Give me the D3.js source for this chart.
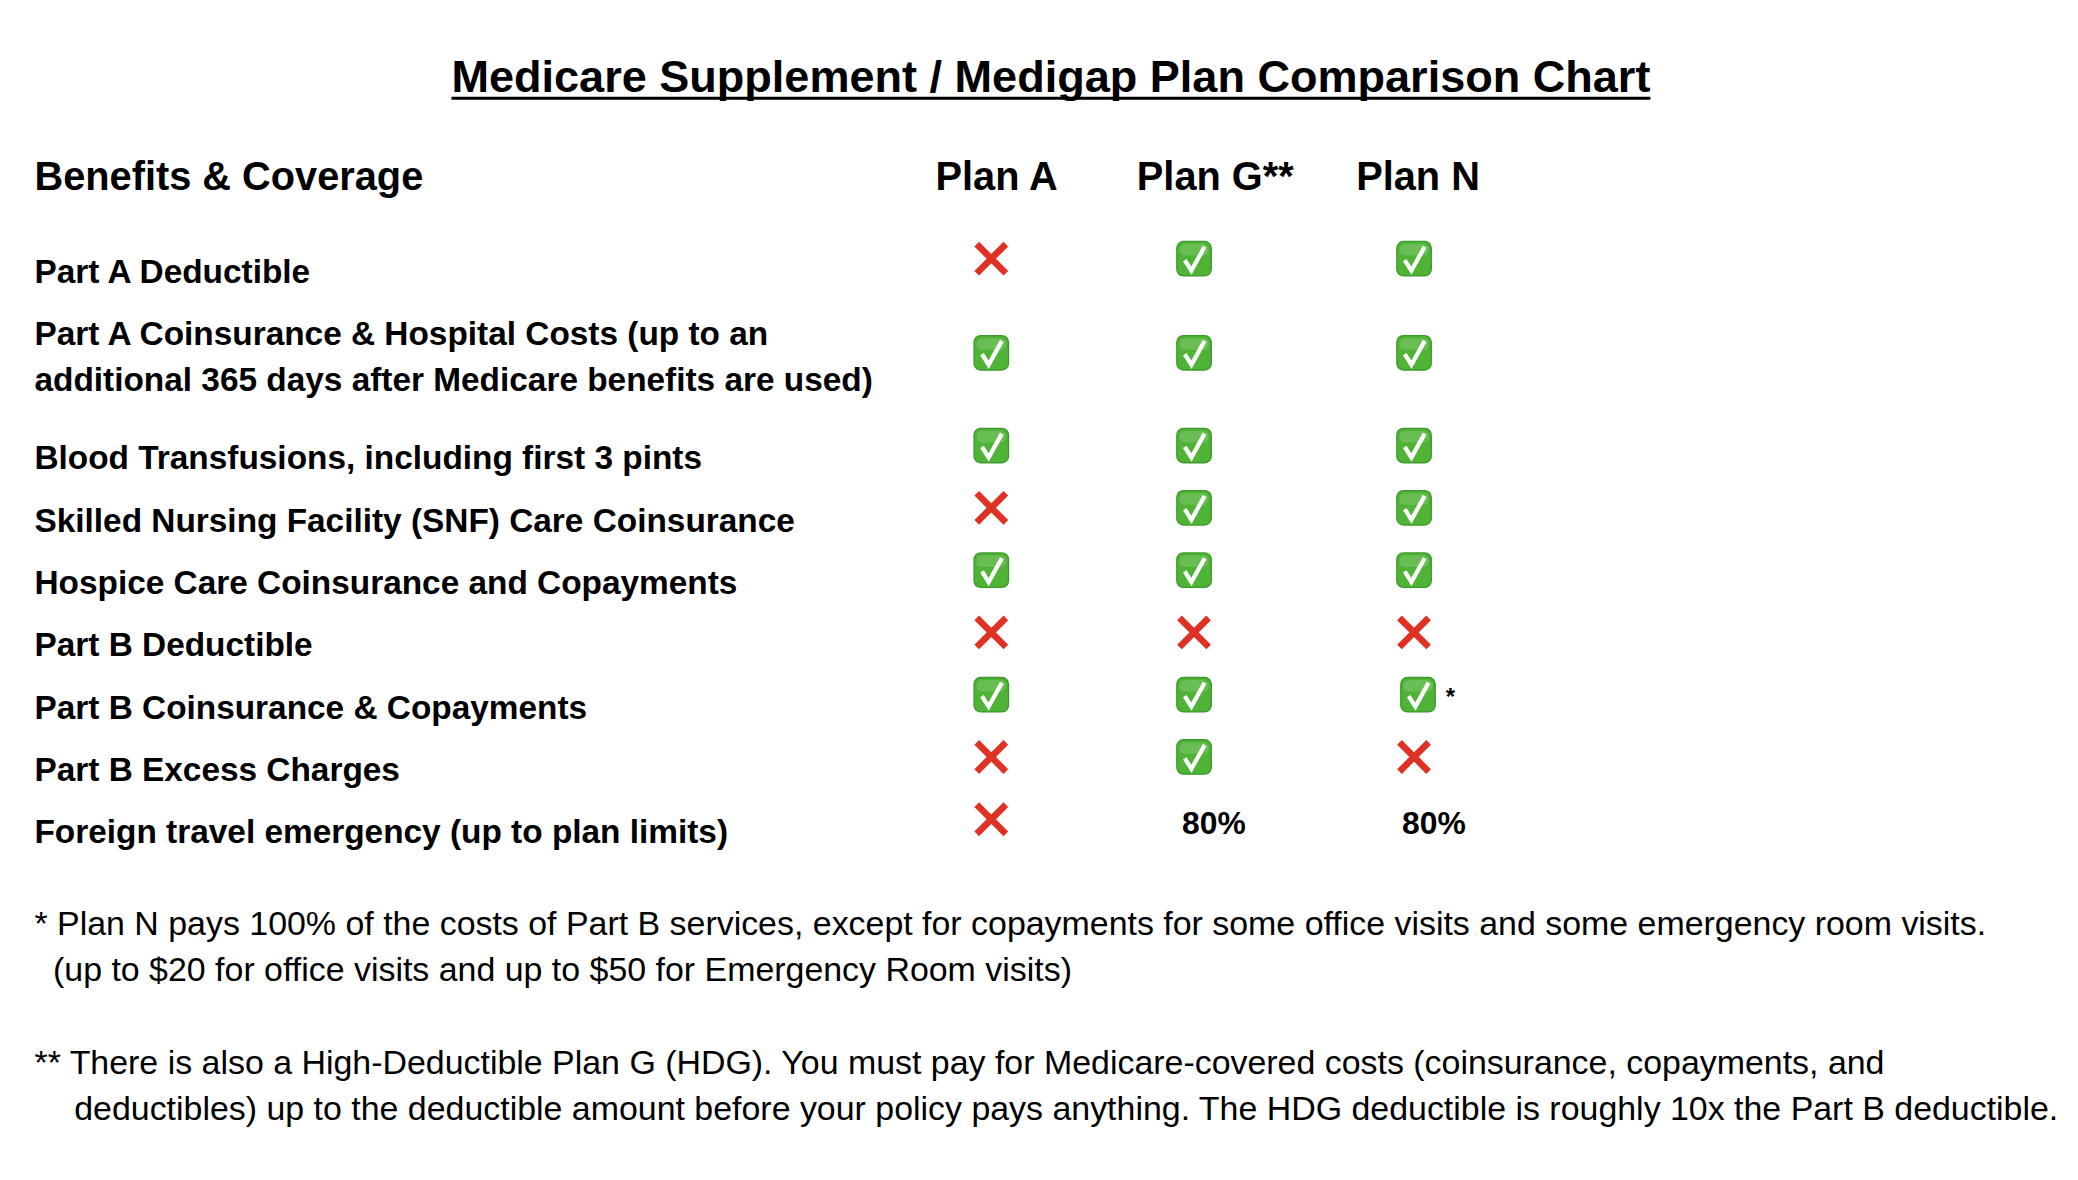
<!DOCTYPE html>
<html lang="en">
<head>
<meta charset="UTF-8">
<title>Medigap Plan Comparison Chart</title>
<script src="https://d3js.org/d3.v7.min.js"></script>
<style>
  body { margin: 0; background: #fff; }
  svg { display: block; }
  text { font-family: "Liberation Sans", Arial, sans-serif; fill: #000; }
</style>
</head>
<body>
<svg id="chart" width="2078" height="1180" viewBox="0 0 1568 890"></svg>
<script>
// table contents
const plans = ["Plan A", "Plan G**", "Plan N"];
const benefits = [
  ["Part A Deductible"],
  ["Part A Coinsurance & Hospital Costs (up to an", "additional 365 days after Medicare benefits are used)"],
  ["Blood Transfusions, including first 3 pints"],
  ["Skilled Nursing Facility (SNF) Care Coinsurance"],
  ["Hospice Care Coinsurance and Copayments"],
  ["Part B Deductible"],
  ["Part B Coinsurance & Copayments"],
  ["Part B Excess Charges"],
  ["Foreign travel emergency (up to plan limits)"]
];
const planA = ["no", "yes", "yes", "no", "yes", "no", "yes", "no", "no"];
const planG = ["yes", "yes", "yes", "yes", "yes", "no", "yes", "yes", "80%"];
const planN = ["yes", "yes", "yes", "yes", "yes", "no", "yes*", "no", "80%"];
const footnotes = [
  ["* Plan N pays 100% of the costs of Part B services, except for copayments for some office visits and some emergency room visits.",
   "(up to $20 for office visits and up to $50 for Emergency Room visits)"],
  ["** There is also a High-Deductible Plan G (HDG). You must pay for Medicare-covered costs (coinsurance, copayments, and",
   "deductibles) up to the deductible amount before your policy pays anything. The HDG deductible is roughly 10x the Part B deductible."]
];

const svg = d3.select("#chart");

// title
const title = svg.append("text")
  .attr("x", 793).attr("y", 69)
  .attr("text-anchor", "middle")
  .style("font-size", "34px").style("font-weight", "bold")
  .text("Medicare Supplement / Medigap Plan Comparison Chart");
const tw = title.node().getComputedTextLength();
svg.append("line")
  .attr("x1", 793 - tw / 2).attr("x2", 793 + tw / 2)
  .attr("y1", 74).attr("y2", 74)
  .attr("stroke", "#000").attr("stroke-width", 2.2);

// header
svg.append("text")
  .attr("x", 26).attr("y", 143)
  .style("font-size", "30px").style("font-weight", "bold")
  .text("Benefits & Coverage");

const headerX = d3.scaleOrdinal().domain(plans).range([752, 917, 1070]);
const markX = d3.scaleOrdinal().domain(plans).range([748, 901, 1067]);

svg.selectAll(".plan-head").data(plans).join("text")
  .attr("class", "plan-head")
  .attr("x", d => headerX(d)).attr("y", 143)
  .attr("text-anchor", "middle")
  .style("font-size", "30px").style("font-weight", "bold")
  .text(d => d);

// row positions: each text line takes a slot, wrapped rows take two
const slots = [];
benefits.reduce((acc, b) => { slots.push(acc); return acc + b.length; }, 0);
const y = d3.scaleLinear().domain([0, 1]).range([213, 260]);

benefits.forEach((lines, i) => {
  const base = y(slots[i]);
  lines.forEach((l, j) => {
    svg.append("text")
      .attr("x", 26).attr("y", base + j * 35)
      .style("font-size", "25.2px").style("font-weight", "bold")
      .text(l);
  });
});

const cols = [planA, planG, planN];

function drawCheck(g, cx, cy) {
  const s = 26;
  g.append("rect")
    .attr("x", cx - s / 2).attr("y", cy - s / 2)
    .attr("width", s).attr("height", s).attr("rx", 5)
    .attr("fill", "#4fb336").attr("stroke", "#3e9a2a").attr("stroke-width", 1);
  g.append("rect")
    .attr("x", cx - s / 2 + 2).attr("y", cy - s / 2 + 2)
    .attr("width", s - 4).attr("height", s / 3).attr("rx", 4)
    .attr("fill", "#fff").attr("opacity", 0.15);
  g.append("path")
    .attr("d", `M${cx - 7},${cy + 1} L${cx - 2},${cy + 9} L${cx + 8},${cy - 9}`)
    .attr("fill", "none").attr("stroke", "#fff").attr("stroke-width", 3.2)
    .attr("stroke-linejoin", "miter");
}

function drawCross(g, cx, cy) {
  const r = 11;
  g.append("path")
    .attr("d", `M${cx - r},${cy - r} L${cx + r},${cy + r} M${cx + r},${cy - r} L${cx - r},${cy + r}`)
    .attr("stroke", "#e03125").attr("stroke-width", 5);
}

cols.forEach((vals, c) => {
  const plan = plans[c];
  vals.forEach((v, i) => {
    const base = y(slots[i]);
    const cy = benefits[i].length > 1 ? base + 6 : base - 18;
    const g = svg.append("g");
    if (v === "no") drawCross(g, markX(plan), cy);
    else if (v === "yes") drawCheck(g, markX(plan), cy);
    else if (v === "yes*") {
      drawCheck(g, markX(plan) + 3, cy);
      g.append("text").attr("x", markX(plan) + 24).attr("y", cy + 8)
        .style("font-size", "18px").style("font-weight", "bold").text("*");
    } else {
      g.append("text").attr("x", markX(plan) + 15).attr("y", base - 7)
        .attr("text-anchor", "middle")
        .style("font-size", "24px").style("font-weight", "bold").text(v);
    }
  });
});

// footnotes
const noteY = [705, 810];
const indent = [40, 56];
footnotes.forEach((lines, i) => {
  lines.forEach((l, j) => {
    svg.append("text")
      .attr("x", j === 0 ? 26 : indent[i]).attr("y", noteY[i] + j * 35)
      .style("font-size", "25.6px")
      .text(l);
  });
});
</script>
</body>
</html>
